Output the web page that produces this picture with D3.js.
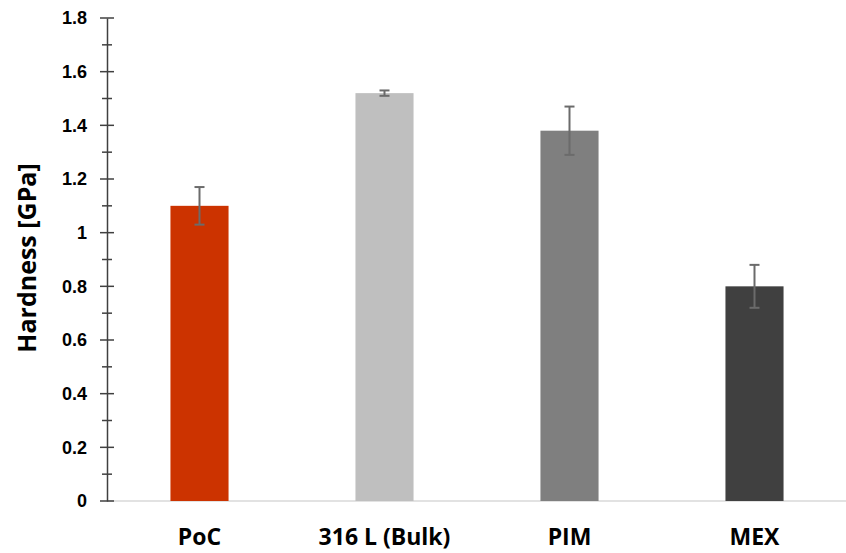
<!DOCTYPE html>
<html>
<head>
<meta charset="utf-8">
<script src="https://cdn.jsdelivr.net/npm/d3@7/dist/d3.min.js"></script>
<style>
  html, body { margin: 0; padding: 0; background: #fff; }
  svg { display: block; font-family: "Open Sans", "Noto Sans", sans-serif; }
</style>
</head>
<body>
<svg id="chart" width="846" height="553"></svg>
<script>
// Hardness of 316L stainless steel by processing route
const categories = ["PoC", "316 L (Bulk)", "PIM", "MEX"];
const hardness = [1.10, 1.52, 1.38, 0.80];
const hardnessErr = [0.07, 0.01, 0.09, 0.08];
const barColors = ["#CC3300", "#BFBFBF", "#7F7F7F", "#404040"];
const yTicks = [0, 0.2, 0.4, 0.6, 0.8, 1, 1.2, 1.4, 1.6, 1.8];
const yTickLabels = ["0", "0.2", "0.4", "0.6", "0.8", "1", "1.2", "1.4", "1.6", "1.8"];

const svg = d3.select("#chart");
const axisX = 107, plotRight = 847, yTop = 18, yBottom = 501;

const x = d3.scaleBand()
  .domain(categories)
  .range([axisX, plotRight])
  .paddingInner(0.686)
  .paddingOuter(0.343);

const y = d3.scaleLinear().domain([0, 1.8]).range([yBottom, yTop]);

// horizontal baseline
svg.append("line")
  .attr("x1", axisX).attr("x2", 846)
  .attr("y1", y(0)).attr("y2", y(0))
  .attr("stroke", "#D9D9D9").attr("stroke-width", 1.5);

// bars
svg.append("g").selectAll("rect")
  .data(categories)
  .join("rect")
  .attr("x", d => x(d))
  .attr("width", x.bandwidth())
  .attr("y", (d, i) => y(hardness[i]))
  .attr("height", (d, i) => y(0) - y(hardness[i]))
  .attr("fill", (d, i) => barColors[i]);

// error bars
const eg = svg.append("g").attr("stroke", "#6b6b6b").attr("stroke-width", 2);
categories.forEach((c, i) => {
  const cx = x(c) + x.bandwidth() / 2;
  const hi = y(hardness[i] + hardnessErr[i]);
  const lo = y(hardness[i] - hardnessErr[i]);
  eg.append("line").attr("x1", cx).attr("x2", cx).attr("y1", hi).attr("y2", lo);
  eg.append("line").attr("x1", cx - 5).attr("x2", cx + 5).attr("y1", hi).attr("y2", hi);
  eg.append("line").attr("x1", cx - 5).attr("x2", cx + 5).attr("y1", lo).attr("y2", lo);
});

// y axis with crossing ticks
const yAxis = d3.axisLeft(y)
  .tickValues(yTicks)
  .tickFormat((d, i) => yTickLabels[i])
  .tickSize(0)
  .tickPadding(20);
const ya = svg.append("g").attr("transform", `translate(${axisX},0)`).call(yAxis);
ya.select(".domain").attr("stroke", "#404040").attr("stroke-width", 1.5);
ya.selectAll(".tick text")
  .attr("fill", "#000")
  .style("font-size", "18px")
  .style("font-weight", "bold");

const minorTicks = d3.range(0.1, 1.8, 0.2);
ya.selectAll(".major")
  .data(yTicks)
  .join("line")
  .attr("x1", -7).attr("x2", 7)
  .attr("y1", d => y(d)).attr("y2", d => y(d))
  .attr("stroke", "#404040").attr("stroke-width", 1.5);
ya.selectAll(".minor")
  .data(minorTicks)
  .join("line")
  .attr("x1", -5).attr("x2", 5)
  .attr("y1", d => y(d)).attr("y2", d => y(d))
  .attr("stroke", "#404040").attr("stroke-width", 1.5);

// category labels
svg.append("g").selectAll("text")
  .data(categories)
  .join("text")
  .attr("x", d => x(d) + x.bandwidth() / 2)
  .attr("y", 545)
  .attr("text-anchor", "middle")
  .style("font-size", "23px")
  .style("font-weight", "bold")
  .text(d => d);

// y axis title
svg.append("text")
  .attr("transform", `translate(36,258) rotate(-90)`)
  .attr("text-anchor", "middle")
  .style("font-size", "25px")
  .style("font-weight", "bold")
  .text("Hardness [GPa]");
</script>
</body>
</html>
